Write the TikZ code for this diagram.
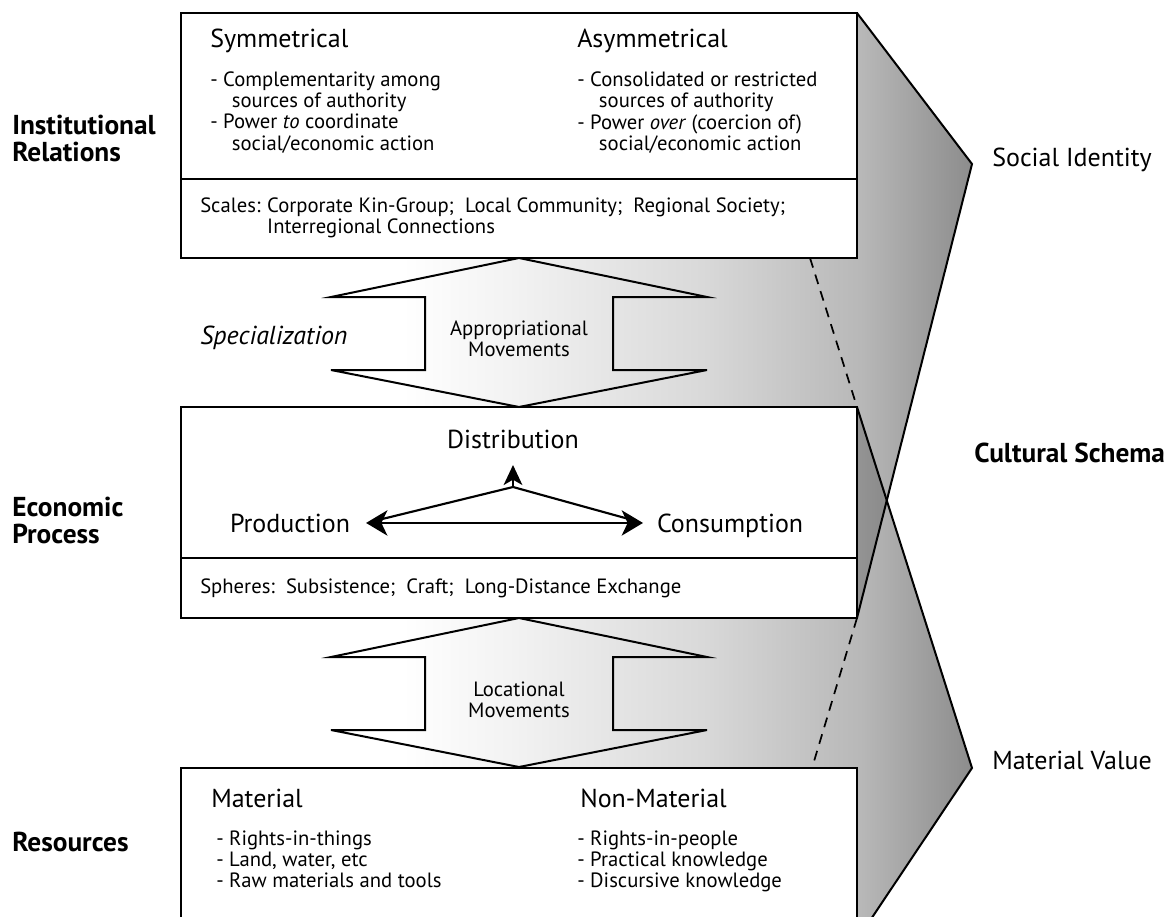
\documentclass[tikz,border=0pt]{standalone}
\usepackage{fontspec}
\setmainfont{PT Sans}
\usepackage{tikz}
\usetikzlibrary{positioning, arrows.meta, calc}

\pgfdeclarehorizontalshading{schemashade}{100bp}{color(0bp)=(white); color(39bp)=(white); color(46bp)=(black!5); color(58bp)=(black!15); color(68bp)=(black!28); color(75bp)=(black!45); color(100bp)=(black!45)}

\newcommand{\hangin}{\hspace*{1.05em}}

\begin{document}
\begin{tikzpicture}[x=0.75pt, y=-0.75pt,
	bigtext/.style={font=\fontsize{19.5}{22}\selectfont, inner sep=0pt},
	listtext/.style={font=\fontsize{15.5}{15.75}\selectfont, inner sep=0pt},
	sidelabel/.style={font=\fontsize{20.5}{20.25}\selectfont\bfseries, inner sep=0pt},
	panel/.style={draw, line width=1.5pt, fill=white},
	panelrule/.style={line width=1.5pt},
	edgeline/.style={line width=1.5pt, line join=miter},
	hiddenedge/.style={line width=1.3pt, dash pattern=on 7.5pt off 5.5pt},
	flow/.style={line width=1.6pt, {Stealth[length=16pt, width=19pt, inset=4.5pt]}-{Stealth[length=16pt, width=19pt, inset=4.5pt]}},
	flowline/.style={line width=1.6pt},
	flowtip/.style={line width=1.6pt, -{Stealth[length=15pt, width=14pt, inset=4pt]}},
	movearrow/.pic={
		\draw[line width=1.5pt, line join=miter] (0,0) -- (188,39) -- (94,39) -- (94,112) -- (188,112) -- (0,149)
			-- (-188,112) -- (-94,112) -- (-94,39) -- (-188,39) -- cycle;
	}]
\clip (0,0) rectangle (1174,917);

% box corners and the two side shapes
\coordinate (irnw) at (181,13);
\coordinate (irne) at (857,13);
\coordinate (irse) at (857,258);
\coordinate (epnw) at (181,407);
\coordinate (epne) at (857,407);
\coordinate (epse) at (857,618);
\coordinate (rsnw) at (181,768);
\coordinate (rsse) at (857,940);
\coordinate (sitip) at (972,164);
\coordinate (mvtip) at (972,768);
\coordinate (cross) at (intersection of sitip--epse and epne--mvtip);

\path[shading=schemashade] (181,258) -- (irse) -- (irne) -- (sitip) -- (cross) -- (mvtip) -- (rsse)
	-- (857,768) -- (rsnw) -- (181,618) -- (epse) -- (epne) -- (epnw) -- cycle;
\fill[black, opacity=0.2] (epne) -- (cross) -- (epse) -- cycle;

\draw[panel] (irnw) rectangle (irse);
\draw[panelrule] (181,179) -- (857,179);
\draw[panel] (epnw) rectangle (epse);
\draw[panelrule] (181,558) -- (857,558);
\draw[panel] (rsnw) rectangle (rsse);

\draw[edgeline] (irne) -- (sitip) -- (epse);
\draw[edgeline] (epne) -- (mvtip) -- (rsse);
\draw[hiddenedge] (810,258) -- (epne);
\draw[hiddenedge] (epse) -- (812,768);

\pic at (519,258) {movearrow};
\pic at (519,618) {movearrow};

% institutional relations
\node[bigtext, anchor=base west] (symhead) at (210,48) {Symmetrical};
\node[bigtext, anchor=base west] (asymhead) at (577,48) {Asymmetrical};
\node[listtext, anchor=base west] (symlist) at (210,87) {\begin{tabular}[t]{@{}l@{}}- Complementarity among\\\hangin sources of authority\\- Power \emph{to} coordinate\\\hangin social/economic action\end{tabular}};
\node[listtext, anchor=base west] (asymlist) at (577,87) {\begin{tabular}[t]{@{}l@{}}- Consolidated or restricted\\\hangin sources of authority\\- Power \emph{over} (coercion of)\\\hangin social/economic action\end{tabular}};
\node[listtext, anchor=base west] (scales) at (200,212) {\begin{tabular}[t]{@{}l@{\hspace{5pt}}l@{}}Scales: & Corporate Kin-Group;\ \ Local Community;\ \ Regional Society;\\ & Interregional Connections\end{tabular}};

\node[bigtext, font=\fontsize{19.5}{22}\selectfont\itshape, anchor=base west] (special) at (200,344) {Specialization};
\node[listtext, align=center] (approp) at (519,339) {Appropriational\\Movements};

% economic process
\node[bigtext, anchor=base] (dist) at (513,448) {Distribution};
\node[bigtext, anchor=base west, outer xsep=12pt] (prod) at (214,532) {Production};
\node[bigtext, anchor=base west, outer xsep=10.5pt] (cons) at (643,532) {Consumption};
\coordinate (apex) at ($(dist.base)+(0,39)$);
\draw[flow] (prod.east) -- (prod.east -| cons.west);
\draw[flowline, shorten <=11pt, shorten >=11pt] (prod.east) -- (apex) -- (prod.east -| cons.west);
\draw[flowtip] (apex) -- ($(dist.base)+(0,17)$);
\node[listtext, anchor=base west] (spheres) at (200,593) {Spheres:\ \ Subsistence;\ \ Craft;\ \ Long-Distance Exchange};

\node[listtext, align=center] (locat) at (519,700) {Locational\\Movements};

% resources
\node[bigtext, anchor=base west] (mathead) at (211,807) {Material};
\node[bigtext, anchor=base west] (nonmathead) at (580,807) {Non-Material};
\node[listtext, anchor=base west] (matlist) at (216,845) {\begin{tabular}[t]{@{}l@{}}- Rights-in-things\\- Land, water, etc\\- Raw materials and tools\end{tabular}};
\node[listtext, anchor=base west] (nonmatlist) at (577,845) {\begin{tabular}[t]{@{}l@{}}- Rights-in-people\\- Practical knowledge\\- Discursive knowledge\end{tabular}};

% side labels
\node[sidelabel, anchor=base west] (inst) at (12,134) {\begin{tabular}[t]{@{}l@{}}Institutional\\Relations\end{tabular}};
\node[sidelabel, anchor=base west] (econ) at (12,516) {\begin{tabular}[t]{@{}l@{}}Economic\\Process\end{tabular}};
\node[sidelabel, anchor=base west] (res) at (12,851) {Resources};
\node[bigtext, anchor=base west] (socid) at (992,166) {Social Identity};
\node[sidelabel, anchor=base west] (schema) at (974,462) {Cultural Schema};
\node[bigtext, anchor=base west] (matval) at (992,769) {Material Value};
\end{tikzpicture}
\end{document}
